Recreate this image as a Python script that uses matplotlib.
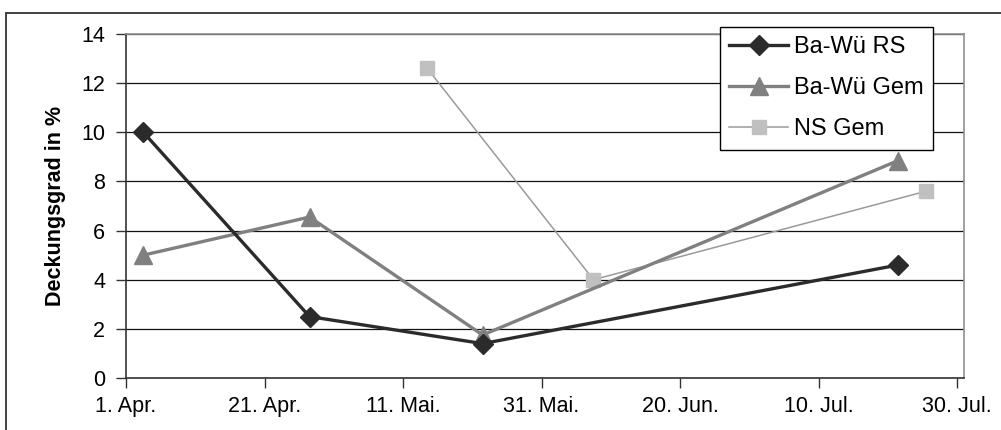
import numpy as np
import pandas as pd
import matplotlib
matplotlib.use('Agg')
import matplotlib.pyplot as plt
from matplotlib.patches import Rectangle

plt.rcParams['font.family'] = ['Liberation Sans', 'DejaVu Sans']

# Werte
dates_bawu = ['2000-04-03', '2000-04-27', '2000-05-22', '2000-07-21']
bawu_rs = [10.0, 2.5, 1.4, 4.6]
bawu_gem = [5.0, 6.55, 1.75, 8.85]

dates_ns = ['2000-05-14', '2000-06-07', '2000-07-25']
ns_gem = [12.6, 4.0, 7.6]

tick_dates = ['2000-04-01', '2000-04-21', '2000-05-11', '2000-05-31',
              '2000-06-20', '2000-07-10', '2000-07-30']
tick_labels = ['1. Apr.', '21. Apr.', '11. Mai.', '31. Mai.',
               '20. Jun.', '10. Jul.', '30. Jul.']

# Excel zeichnet Datumspunkte in der Tagesmitte
half_day = pd.Timedelta(hours=12)
x_bawu = pd.to_datetime(dates_bawu) + half_day
x_ns = pd.to_datetime(dates_ns) + half_day

fig = plt.figure(figsize=(10.01, 4.30), dpi=100)
ax = fig.add_axes([126/1001, 52/430, 838/1001, 344/430])

# outer chart frame
fig.patches.append(Rectangle((6/1001, -0.1), 1.2, (430-13)/430 + 0.1,
                             transform=fig.transFigure, fill=False,
                             edgecolor='#333333', linewidth=1.3))

ax.plot(x_bawu, bawu_rs, color='#2b2b2b', lw=2.4, marker='D', ms=10.5,
        label='Ba-Wü RS', zorder=4)
ax.plot(x_bawu, bawu_gem, color='#808080', lw=2.4, marker='^', ms=13,
        label='Ba-Wü Gem', zorder=3)
ax.plot(x_ns, ns_gem, color='#9a9a9a', lw=1.1, marker='s', ms=10.5,
        markerfacecolor='#c0c0c0', markeredgecolor='#c0c0c0',
        label='NS Gem', zorder=2)

ax.set_ylim(0, 14)
ax.set_yticks(np.arange(0, 15, 2))
ax.set_xlim(pd.Timestamp('2000-04-01'), pd.Timestamp('2000-07-31'))
ax.set_xticks(pd.to_datetime(tick_dates))
ax.set_xticklabels(tick_labels)

ax.yaxis.grid(True, color='#111111', linewidth=0.9)
ax.set_axisbelow(True)

ax.tick_params(axis='both', labelsize=15.5, direction='out', length=7,
               width=1, color='#333333')
ax.tick_params(axis='y', pad=8)
ax.tick_params(axis='x', pad=6)

for s in ['left', 'bottom']:
    ax.spines[s].set_color('#333333')
    ax.spines[s].set_linewidth(1.2)
for s in ['top', 'right']:
    ax.spines[s].set_color('#909090')
    ax.spines[s].set_linewidth(1.2)

ax.set_ylabel('Deckungsgrad in %', fontsize=15.5, fontweight='bold', labelpad=11)

leg = fig.legend(loc='upper left', bbox_to_anchor=(720/1001, 1 - 27/430),
                 fontsize=17, frameon=True, fancybox=False, framealpha=1,
                 edgecolor='black', handlelength=2.5, borderpad=0.4,
                 labelspacing=0.8, handletextpad=0.25, borderaxespad=0)
leg.get_frame().set_linewidth(1.0)

fig.savefig('out.png', dpi=100)
